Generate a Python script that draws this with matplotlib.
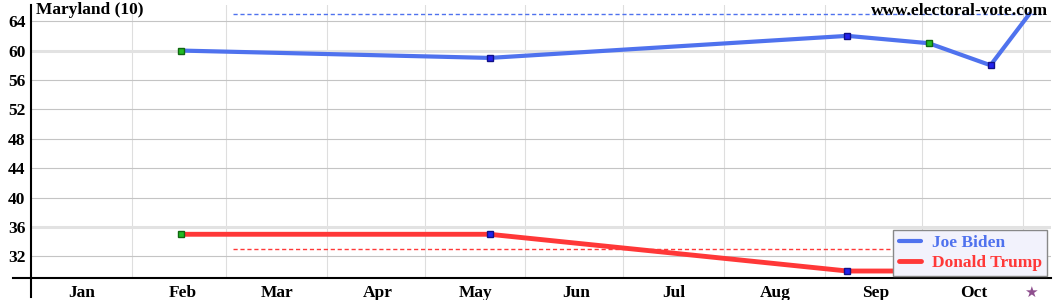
import matplotlib
matplotlib.use("Agg")
import matplotlib.pyplot as plt
import pandas as pd

# Poll data (Maryland, 2020)
pollDates = ["2020-02-16", "2020-05-21", "2020-09-08", "2020-10-03", "2020-10-22", "2020-11-03"]
bidenValues = [60, 59, 62, 61, 58, 65]
trumpValues = [35, 35, 30, 30, 30, 33]
markerKinds = ["green", "blue", "blue", "green", "blue", None]
finalBiden = 65
finalTrump = 33
dashStart = "2020-03-03"
monthLabels = ["Jan", "Feb", "Mar", "Apr", "May", "Jun", "Jul", "Aug", "Sep", "Oct"]
yTicks = [32, 36, 40, 44, 48, 52, 56, 60, 64]

def dayOfYear(s):
    return pd.Timestamp(s).dayofyear - 1

xDays = [dayOfYear(d) for d in pollDates]
electionDay = dayOfYear("2020-11-03") + 0.5

serif = ["Liberation Serif", "DejaVu Serif"]
blue = "#4f72ee"
red = "#ff3838"

fig = plt.figure(figsize=(10.6, 3.0), dpi=100)
ax = fig.add_axes([31 / 1060, 1 - 278 / 300, 1020 / 1060, 273 / 300])
ax.set_xlim(0, 313.6)
ax.set_ylim(29.05, 66.2)

# Grid
monthStarts = [dayOfYear("2020-%02d-01" % m) for m in range(2, 12)]
for d in monthStarts:
    ax.axvline(d, color="#dedede", lw=0.8, zorder=0)
for y in yTicks:
    ax.axhline(y, color="#c4c4c4", lw=0.8, zorder=0)
for y in [60, 36]:
    ax.axhline(y, color="#e2e2e2", lw=2.2, zorder=0)

# Dashed final-result lines
ax.plot([dayOfYear(dashStart), ax.get_xlim()[1] - 3], [finalBiden, finalBiden], ls=(0, (3, 2)), color=blue, lw=1, zorder=1)
ax.plot([dayOfYear(dashStart), ax.get_xlim()[1] - 3], [finalTrump, finalTrump], ls=(0, (3, 2)), color=red, lw=1, zorder=1)

# Lines
ax.plot(xDays, bidenValues, color=blue, lw=3, solid_capstyle="round", zorder=2, label="Joe Biden")
ax.plot(xDays, trumpValues, color=red, lw=3.5, solid_capstyle="round", zorder=2, label="Donald Trump")

# Markers
markerColors = {"green": ("#22bb22", "#116611"), "blue": ("#2222ee", "#111188")}
for x, b, t, kind in zip(xDays, bidenValues, trumpValues, markerKinds):
    if kind is None:
        continue
    face, edge = markerColors[kind]
    ax.plot([x, x], [b, t], ls="none", marker="s", ms=5, mfc=face, mec=edge, mew=1, zorder=3)

# Axes styling
for side in ["top", "right", "left", "bottom"]:
    ax.spines[side].set_visible(False)
ax.plot([-18 / 3.252, 313.6], [29.05, 29.05], color="black", lw=1.5, clip_on=False, zorder=4)
ax.plot([0, 0], [29.05 - 19 / 7.35, 66.2], color="black", lw=1.5, clip_on=False, zorder=4)

ax.set_yticks(yTicks)
ax.set_yticklabels([str(y) for y in yTicks], fontfamily=serif, fontweight="bold", fontsize=12.5)
midMonths = [dayOfYear("2020-%02d-15" % m) + 1.7 for m in range(1, 11)]
ax.set_xticks(midMonths + [electionDay])
ax.set_xticklabels(monthLabels + ["\u2605"], fontfamily=serif, fontweight="bold", fontsize=12.5)
starLabel = ax.get_xticklabels()[-1]
starLabel.set_color("#8e4f8e")
starLabel.set_fontfamily("DejaVu Sans")
starLabel.set_fontsize(11)
ax.tick_params(axis="y", length=0, pad=4)
ax.tick_params(axis="x", length=0, pad=5)

# Titles
fig.text(36 / 1060, 1 - 10 / 300, "Maryland (10)", fontfamily=serif, fontweight="bold", fontsize=12.5, va="center", ha="left")
fig.text(1048 / 1060, 1 - 11 / 300, "www.electoral-vote.com", fontfamily=serif, fontweight="bold", fontsize=12.5, va="center", ha="right")

# Legend
leg = ax.legend(loc="lower right", bbox_to_anchor=(1047 / 1060, 24 / 300), bbox_transform=fig.transFigure,
                prop={"family": serif, "weight": "bold", "size": 12.5}, frameon=True, fancybox=False,
                handlelength=1.3, handletextpad=0.6, borderpad=0.3, labelspacing=0.2, borderaxespad=0)
leg.get_frame().set_facecolor("#f2f2fc")
leg.get_frame().set_edgecolor("#888888")
leg.get_frame().set_alpha(1)
for text, color in zip(leg.get_texts(), [blue, red]):
    text.set_color(color)
leg.set_zorder(5)

fig.savefig("out.png", dpi=100)
